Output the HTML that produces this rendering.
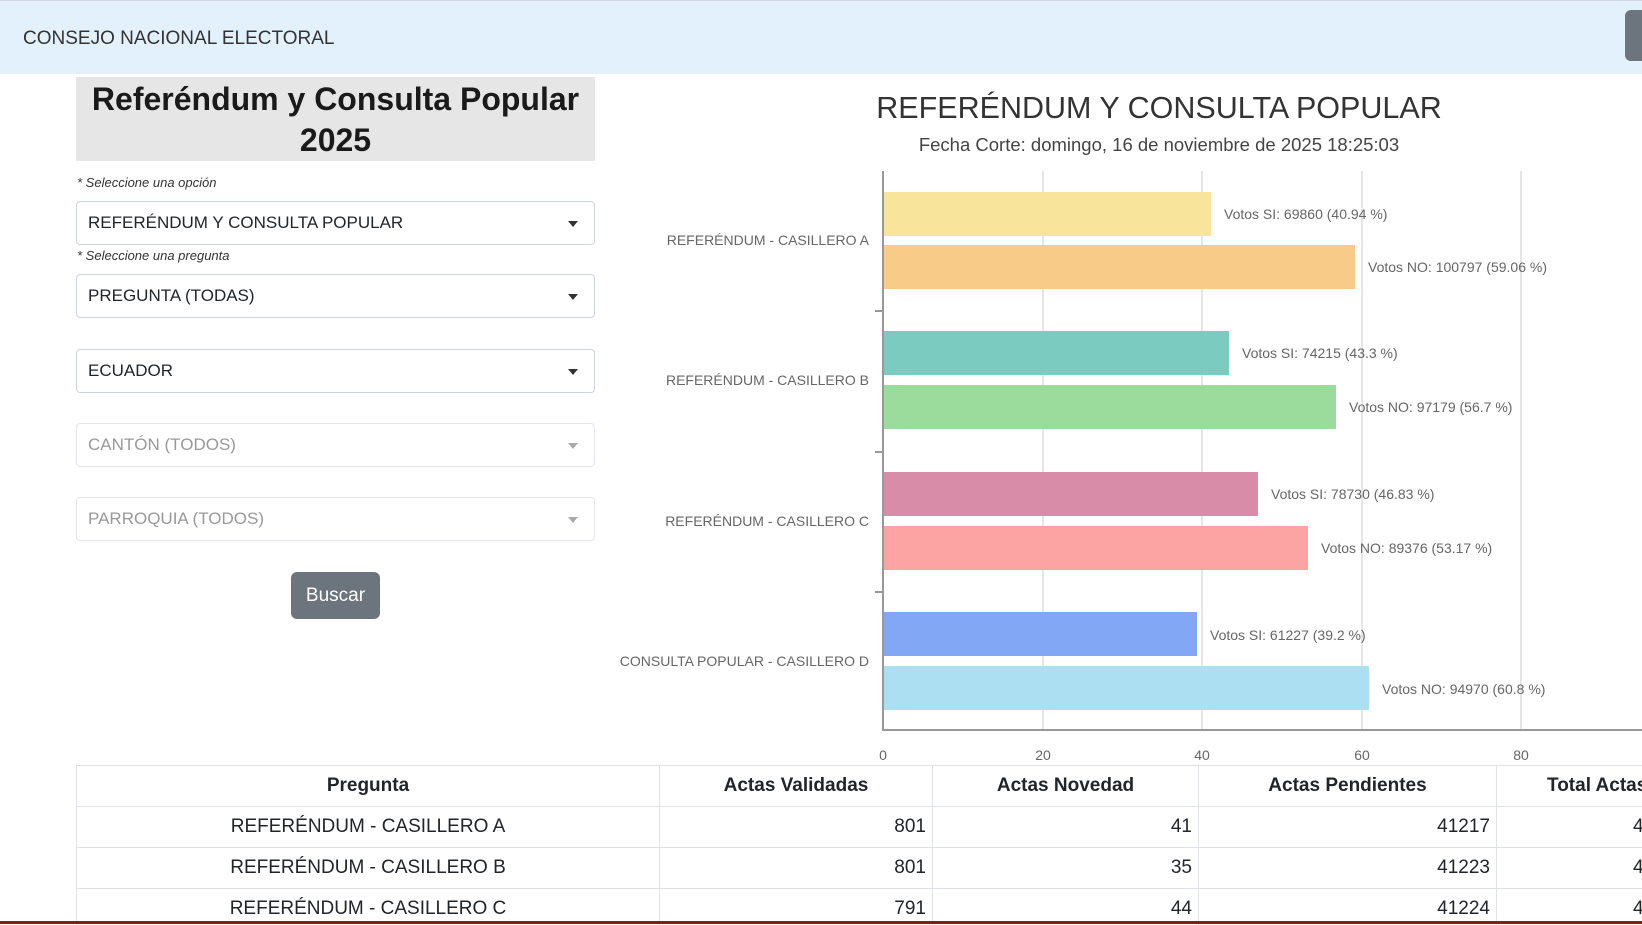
<!DOCTYPE html>
<html><head><meta charset="utf-8"><style>
body{margin:0;width:1642px;height:924px;overflow:hidden;background:#fff;font-family:"Liberation Sans",sans-serif;position:relative;color:#212529}
.hdr{position:absolute;left:0;top:0;width:1642px;height:73px;background:#e3f1fd;border-top:1px solid #d0d8e8}
.hdr span{position:absolute;left:23px;top:27px;font-size:19px;color:#333}
.btn2{position:absolute;left:1625px;top:10px;width:30px;height:51px;background:#6c757d;border-radius:6px}
.title{position:absolute;left:76px;top:77px;width:519px;height:84px;background:#e6e6e6;text-align:center;font-weight:bold;font-size:32px;line-height:41px;padding-top:2px;box-sizing:border-box;color:#1a1a1a}
.lbl{position:absolute;left:77px;font-size:13px;font-style:italic;color:#333}
.sel{position:absolute;left:76px;border:1px solid #ced4da;border-radius:4px;font-size:17px;line-height:42px;padding-left:11px;box-sizing:border-box;width:519px;height:44px}
.sel:after{content:"";position:absolute;right:16px;top:19px;border-left:5px solid transparent;border-right:5px solid transparent;border-top:6px solid #333}
.dis{color:#999;border-color:#e3e6ea}.dis:after{border-top-color:#aaa}
.buscar{position:absolute;left:291px;top:572px;width:89px;height:47px;background:#6c757d;color:#fff;border-radius:6px;font-size:19px;text-align:center;line-height:47px}
.tw{position:absolute;left:76px;top:765px;width:1566px;height:160px;overflow:hidden}
table{border-collapse:collapse;font-size:19px;table-layout:fixed;width:1720px}
td,th{border:1px solid #dee2e6;height:40px;padding:0 6px;overflow:hidden;white-space:nowrap}
th{font-weight:bold;text-align:center}
</style></head><body>
<div class="hdr"><span>CONSEJO NACIONAL ELECTORAL</span></div>
<div class="btn2"></div>
<div class="title">Referéndum y Consulta Popular<br>2025</div>
<div class="lbl" style="top:175px">* Seleccione una opción</div>
<div class="sel" style="top:201px">REFERÉNDUM Y CONSULTA POPULAR</div>
<div class="lbl" style="top:248px">* Seleccione una pregunta</div>
<div class="sel" style="top:274px">PREGUNTA (TODAS)</div>
<div class="sel" style="top:349px">ECUADOR</div>
<div class="sel dis" style="top:423px">CANTÓN (TODOS)</div>
<div class="sel dis" style="top:497px">PARROQUIA (TODOS)</div>
<div class="buscar">Buscar</div>
<svg style="position:absolute;left:0;top:0" width="1642" height="924" font-family="Liberation Sans, sans-serif">
<text x="1159" y="118" text-anchor="middle" font-size="30.5" fill="#333">REFERÉNDUM Y CONSULTA POPULAR</text>
<text x="1159" y="151" text-anchor="middle" font-size="18.5" fill="#444">Fecha Corte: domingo, 16 de noviembre de 2025 18:25:03</text>
<g stroke="#ddd" stroke-width="1.5">
<line x1="1043" y1="171" x2="1043" y2="730"/><line x1="1202" y1="171" x2="1202" y2="730"/><line x1="1362" y1="171" x2="1362" y2="730"/><line x1="1521" y1="171" x2="1521" y2="730"/>
</g>
<g>
<rect x="884" y="192" width="327" height="44" fill="#f9e49c"/>
<rect x="884" y="245" width="471" height="44" fill="#f8cb88"/>
<rect x="884" y="331" width="345" height="44" fill="#7ccbc0"/>
<rect x="884" y="385" width="452" height="44" fill="#9bdb9c"/>
<rect x="884" y="472" width="374" height="44" fill="#d98ca7"/>
<rect x="884" y="526" width="424" height="44" fill="#fca3a3"/>
<rect x="884" y="612" width="313" height="44" fill="#82a8f5"/>
<rect x="884" y="666" width="485" height="44" fill="#addff2"/>
</g>
<g font-size="14" fill="#666">
<text x="1224" y="219">Votos SI: 69860 (40.94 %)</text>
<text x="1368" y="272">Votos NO: 100797 (59.06 %)</text>
<text x="1242" y="358">Votos SI: 74215 (43.3 %)</text>
<text x="1349" y="412">Votos NO: 97179 (56.7 %)</text>
<text x="1271" y="499">Votos SI: 78730 (46.83 %)</text>
<text x="1321" y="553">Votos NO: 89376 (53.17 %)</text>
<text x="1210" y="640">Votos SI: 61227 (39.2 %)</text>
<text x="1382" y="694">Votos NO: 94970 (60.8 %)</text>
</g>
<g font-size="14" fill="#666" text-anchor="end">
<text x="869" y="245">REFERÉNDUM - CASILLERO A</text>
<text x="869" y="385">REFERÉNDUM - CASILLERO B</text>
<text x="869" y="526">REFERÉNDUM - CASILLERO C</text>
<text x="869" y="666">CONSULTA POPULAR - CASILLERO D</text>
</g>
<g stroke="#999" stroke-width="2">
<line x1="883" y1="171" x2="883" y2="731"/><line x1="882" y1="730" x2="1642" y2="730"/>
<line x1="875" y1="311" x2="883" y2="311"/><line x1="875" y1="452" x2="883" y2="452"/><line x1="875" y1="592" x2="883" y2="592"/>
</g>
<g font-size="14" fill="#666" text-anchor="middle">
<text x="883" y="760">0</text><text x="1043" y="760">20</text><text x="1202" y="760">40</text><text x="1362" y="760">60</text><text x="1521" y="760">80</text>
</g>
</svg>
<div class="tw"><table>
<colgroup><col style="width:583px"><col style="width:273px"><col style="width:266px"><col style="width:298px"><col style="width:300px"></colgroup>
<tr><th>Pregunta</th><th>Actas Validadas</th><th>Actas Novedad</th><th>Actas Pendientes</th><th style="text-align:left;padding-left:50px">Total Actas</th></tr>
<tr><td style="text-align:center">REFERÉNDUM - CASILLERO A</td><td style="text-align:right">801</td><td style="text-align:right">41</td><td style="text-align:right">41217</td><td style="padding-left:136px">41259</td></tr>
<tr><td style="text-align:center">REFERÉNDUM - CASILLERO B</td><td style="text-align:right">801</td><td style="text-align:right">35</td><td style="text-align:right">41223</td><td style="padding-left:136px">41259</td></tr>
<tr><td style="text-align:center">REFERÉNDUM - CASILLERO C</td><td style="text-align:right">791</td><td style="text-align:right">44</td><td style="text-align:right">41224</td><td style="padding-left:136px">41259</td></tr>
</table></div>
<div style="position:absolute;left:0;top:921px;width:1642px;height:3px;background:#8b1a1a"></div>
</body></html>
